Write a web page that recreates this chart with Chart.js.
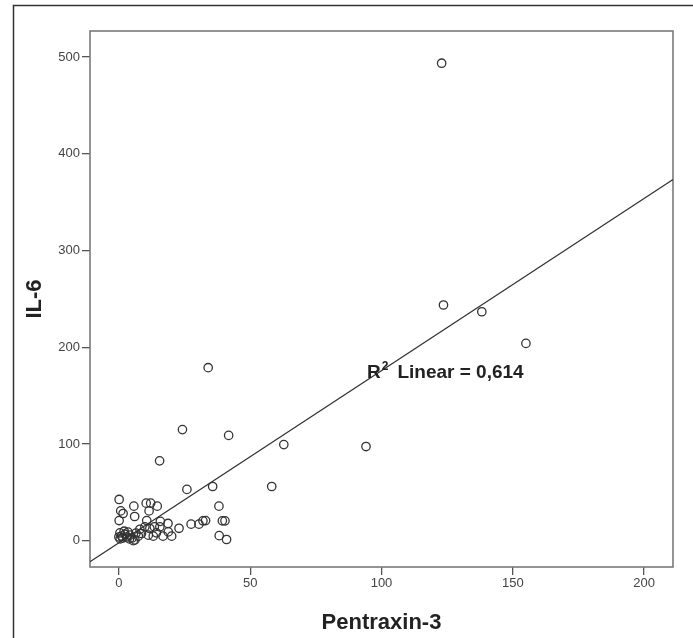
<!DOCTYPE html>
<html lang="en">
<head>
    <meta charset="UTF-8">
    <title>IL-6 vs Pentraxin-3</title>
    <script src="https://cdn.jsdelivr.net/npm/chart.js"></script>
    <style>
        body { margin: 0; background: #fff; }
        canvas { display: block; }
    </style>
</head>
<body>
    <canvas id="scatterChart" width="693" height="638"></canvas>

    <script>
        // values
        const pentraxin3 = [
            122.9, 123.6, 138.2, 155.0, 34.0, 24.2, 41.8, 62.8, 15.5, 94.1,
            25.9, 35.7, 58.2, 0.1, 5.7, 10.4, 12.1, 14.6, 38.1, 0.7,
            1.6, 6.0, 11.5, 0.1, 10.6, 15.8, 18.7, 22.9, 27.5, 30.5,
            32.0, 33.0, 39.4, 40.4, 38.2, 41.0, 20.1, 16.8, 13.1, 11.2,
            9.9, 11.8, 13.5, 14.3, 15.6, 18.8, 6.1, 5.5, 0.0, 0.4,
            1.0, 1.5, 2.3, 3.0, 3.5, 4.2, 5.0, 7.4, 8.6, 2.0,
            0.5, 4.0, 8.0, 6.5
        ];
        const il6 = [
            493.7, 243.8, 236.8, 204.1, 179.0, 115.0, 109.0, 99.5, 82.7, 97.5,
            53.2, 56.2, 56.2, 42.8, 35.9, 39.0, 39.0, 35.9, 35.9, 31.0,
            28.3, 25.2, 31.0, 21.0, 21.0, 20.2, 18.0, 13.0, 17.3, 17.3,
            20.7, 21.0, 20.7, 20.7, 5.4, 1.4, 4.9, 4.9, 4.9, 5.9,
            14.5, 12.8, 14.5, 8.3, 14.5, 9.3, 1.0, 0.2, 4.0, 8.3,
            5.0, 3.0, 6.9, 4.0, 9.0, 5.9, 3.0, 4.9, 7.6, 10.0,
            2.0, 2.0, 12.0, 8.0
        ];
        const xTicks = [0, 50, 100, 150, 200];
        const yTicks = [0, 100, 200, 300, 400, 500];
        const xRange = [-11, 211];
        const yRange = [-27, 527];

        // linear fit shown in the plot
        const fitSlope = 1.78;
        const fitIntercept = -2;
        const fitR2 = '0,614';
        const fitLabelAt = { x: 94.5, y: 168 };

        const points = pentraxin3.map((v, i) => ({ x: v, y: il6[i] }));
        const fitLine = xRange.map(v => ({ x: v, y: fitIntercept + fitSlope * v }));

        const spssFrame = {
            id: 'spssFrame',
            beforeDraw(chart) {
                const ctx = chart.ctx;
                ctx.save();
                ctx.fillStyle = '#fff';
                ctx.fillRect(0, 0, chart.width, chart.height);
                ctx.strokeStyle = '#333';
                ctx.lineWidth = 1.5;
                ctx.beginPath();
                ctx.moveTo(13.5, chart.height);
                ctx.lineTo(13.5, 5.5);
                ctx.lineTo(chart.width, 5.5);
                ctx.stroke();
                ctx.restore();
            },
            beforeDatasetsDraw(chart) {
                const a = chart.chartArea;
                const ctx = chart.ctx;
                ctx.save();
                ctx.strokeStyle = '#7a7a7a';
                ctx.lineWidth = 1.6;
                ctx.strokeRect(a.left, a.top, a.right - a.left, a.bottom - a.top);
                ctx.restore();
            },
            afterDatasetsDraw(chart) {
                const ctx = chart.ctx;
                const x = chart.scales.x.getPixelForValue(fitLabelAt.x);
                const y = chart.scales.y.getPixelForValue(fitLabelAt.y);
                ctx.save();
                ctx.fillStyle = '#222';
                ctx.textBaseline = 'alphabetic';
                ctx.font = 'bold 19px "Liberation Sans", Arial, sans-serif';
                ctx.fillText('R', x, y);
                let cx = x + ctx.measureText('R').width;
                ctx.font = 'bold 12px "Liberation Sans", Arial, sans-serif';
                ctx.fillText('2', cx + 1, y - 8);
                cx += ctx.measureText('2').width + 10;
                ctx.font = 'bold 19px "Liberation Sans", Arial, sans-serif';
                ctx.fillText('Linear = ' + fitR2, cx, y);
                ctx.restore();
            }
        };

        const tickFont = { family: '"Liberation Sans", Arial, sans-serif', size: 13 };
        const titleFont = { family: '"Liberation Sans", Arial, sans-serif', size: 22, weight: 'bold' };

        const ctx = document.getElementById('scatterChart').getContext('2d');
        new Chart(ctx, {
            data: {
                datasets: [{
                    type: 'scatter',
                    data: points,
                    pointStyle: 'circle',
                    pointRadius: 4.2,
                    pointHoverRadius: 4.2,
                    borderColor: '#333',
                    borderWidth: 1.3,
                    backgroundColor: 'rgba(0,0,0,0)'
                }, {
                    type: 'line',
                    data: fitLine,
                    borderColor: '#333',
                    borderWidth: 1.2,
                    pointRadius: 0,
                    fill: false
                }]
            },
            options: {
                responsive: false,
                animation: false,
                layout: { padding: { left: 0, top: 31, right: 20, bottom: 0 } },
                plugins: {
                    legend: { display: false },
                    tooltip: { enabled: false }
                },
                scales: {
                    x: {
                        type: 'linear',
                        position: 'bottom',
                        min: xRange[0],
                        max: xRange[1],
                        afterBuildTicks: s => { s.ticks = xTicks.map(v => ({ value: v })); },
                        afterFit: s => { s.height = 71; },
                        border: { display: false },
                        grid: { drawOnChartArea: false, drawTicks: true, tickLength: 8, color: '#555', lineWidth: 1.3 },
                        ticks: { padding: 1, color: '#444', font: tickFont, maxRotation: 0 },
                        title: { display: true, text: 'Pentraxin-3', color: '#222', font: titleFont, padding: { top: 0, bottom: 2 } }
                    },
                    y: {
                        type: 'linear',
                        position: 'left',
                        min: yRange[0],
                        max: yRange[1],
                        afterBuildTicks: s => { s.ticks = yTicks.map(v => ({ value: v })); },
                        afterFit: s => { s.width = 90; },
                        border: { display: false },
                        grid: { drawOnChartArea: false, drawTicks: true, tickLength: 8, color: '#555', lineWidth: 1.3 },
                        ticks: { padding: 2, color: '#444', font: tickFont },
                        title: { display: true, text: 'IL-6', color: '#222', font: titleFont, padding: { top: 22, bottom: 0 } }
                    }
                }
            },
            plugins: [spssFrame]
        });
    </script>
</body>
</html>
